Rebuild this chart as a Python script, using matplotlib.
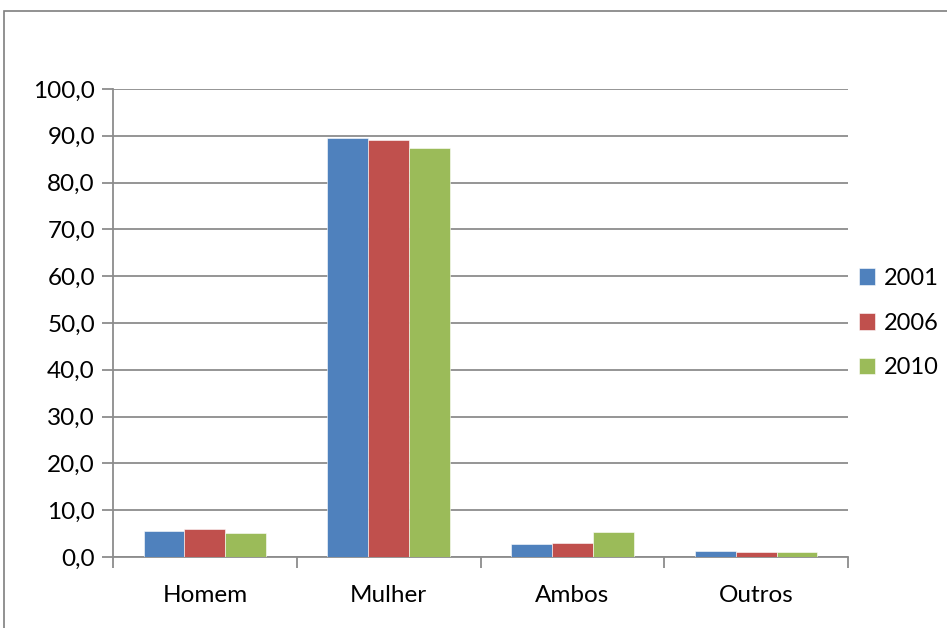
import numpy as np
import matplotlib.pyplot as plt
from matplotlib.patches import Rectangle
from matplotlib.ticker import FuncFormatter

categories = ['Homem', 'Mulher', 'Ambos', 'Outros']
years = ['2001', '2006', '2010']
v2001 = [5.5, 89.6, 2.7, 1.2]
v2006 = [5.9, 89.1, 2.9, 1.1]
v2010 = [5.2, 87.5, 5.3, 1.0]
colors = ['#4F81BD', '#C0504D', '#9BBB59']

plt.rcParams['font.family'] = ['Lato', 'DejaVu Sans']

W, H = 947, 628
fig = plt.figure(figsize=(W / 100, H / 100), dpi=100)

# chart frame
fig.patches.append(Rectangle((4 / W, -0.1), 1.2, 1 - 11 / H + 0.1,
                             transform=fig.transFigure, fill=False,
                             edgecolor='#7f7f7f', linewidth=1.2))

left, right, top, bottom = 113, 848, 89, 557
ax = fig.add_axes([left / W, 1 - bottom / H, (right - left) / W, (bottom - top) / H])

x = np.arange(len(categories))
bw = 0.222
for i, (vals, yr) in enumerate(zip([v2001, v2006, v2010], years)):
    ax.bar(x + (i - 1) * bw, vals, bw, color=colors[i], label=yr,
           edgecolor='white', linewidth=0.4, zorder=3)

ax.set_xlim(-0.5, len(categories) - 0.5)
ax.set_ylim(0, 100)
ax.set_yticks(np.arange(0, 101, 10))
ax.yaxis.set_major_formatter(FuncFormatter(lambda v, p: f'{v:.1f}'.replace('.', ',')))
ax.yaxis.grid(True, color='#8c8c8c', linewidth=1.3, zorder=0)

ax.set_xticks(x)
ax.set_xticklabels(categories)
ax.set_xticks(np.arange(-0.5, len(categories)), minor=True)
ax.tick_params(axis='x', which='major', length=0, pad=20, labelsize=17.5)
ax.tick_params(axis='x', which='minor', length=8, color='#8c8c8c', width=1.3)
ax.tick_params(axis='y', length=8, color='#8c8c8c', width=1.3, labelsize=17.5, pad=5)

for s in ['top', 'right']:
    ax.spines[s].set_visible(False)
for s in ['left', 'bottom']:
    ax.spines[s].set_color('#8c8c8c')
    ax.spines[s].set_linewidth(1.3)

ax.legend(loc='center left', bbox_to_anchor=(1.0, 0.5), frameon=False,
          fontsize=17, handlelength=0.7, handleheight=0.7,
          handletextpad=0.35, labelspacing=1.0, borderaxespad=0.35,
          borderpad=0.1)

fig.savefig('out.png', dpi=100)
